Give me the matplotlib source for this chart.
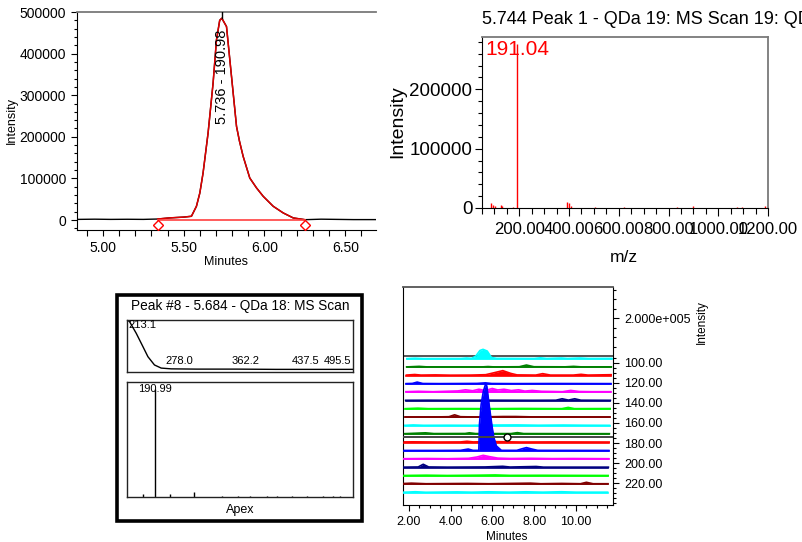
import matplotlib
matplotlib.use("Agg")
import matplotlib.pyplot as plt
from matplotlib.patches import Rectangle
from matplotlib.ticker import MultipleLocator, FixedLocator, FixedFormatter, NullFormatter, FormatStrFormatter

plt.rcParams['font.family'] = ['Liberation Sans', 'DejaVu Sans']

# ---------------- data ----------------
# Extracted-ion chromatogram (m/z 190.98)
xic_time = [4.84, 4.95, 5.05, 5.15, 5.25, 5.34, 5.41, 5.50, 5.548, 5.579, 5.60, 5.62,
            5.651, 5.682, 5.703, 5.723, 5.736, 5.765, 5.796, 5.827, 5.845, 5.868, 5.909,
            5.951, 5.992, 6.054, 6.116, 6.178, 6.25, 6.35, 6.45, 6.55, 6.69]
xic_int = [1500, 2000, 1500, 1800, 1500, 2400, 5000, 7000, 9000, 33000, 65000, 113000,
           209000, 329000, 433000, 480000, 485000, 465000, 345000, 225000, 190000, 153000, 101000,
           77000, 57000, 33000, 17000, 5000, 800, 2000, 1500, 1000, 1000]
peak_start, peak_end = 5.34, 6.25
apex_time, apex_mz = 5.736, 190.98

# Mass spectrum at 5.744 min
ms1_mz = [85, 93, 102, 126.5, 132, 176, 191.04, 391, 399, 408, 505, 619, 834, 898, 1075, 1095, 1189]
ms1_int = [8400, 4500, 3000, 5600, 3500, 2500, 277000, 10000, 8400, 4000, 2000, 2000, 2000, 3000, 2000, 2500, 3000]
base_peak_mz = 191.04

# UV spectrum (peak #8)
uv_nm = [212, 214.9, 223.3, 231.8, 238.1, 246.4, 254.9, 267.5, 300, 350, 400, 450, 498]
uv_abs = [1.0, 0.967, 0.743, 0.484, 0.29, 0.13, 0.07, 0.055, 0.05, 0.05, 0.045, 0.045, 0.045]
uv_labels = [213.1, 278.0, 362.2, 437.5, 495.5]

# Apex mass spectrum (peak #8)
ms2_mz = [131, 190.99, 267, 389, 530, 615, 674, 759, 810, 886, 963, 1047, 1098, 1132]
ms2_rel = [0.035, 1.0, 0.03, 0.045, 0.012, 0.012, 0.015, 0.012, 0.012, 0.012, 0.01, 0.01, 0.01, 0.012]
apex_ms_mz = 190.99

# Stacked extracted-ion chromatograms: m/z window centres and (time, intensity) points
wf_mz = [96.3, 104.6, 112.9, 121.2, 129.6, 137.9, 146.2, 154.5, 162.8,
         171.1, 179.5, 187.8, 196.1, 204.4, 212.7, 221.0, 229.4]
eic_01 = [(1.9, 2000), (2.3, 4000), (2.7, 2000), (4.5, 2500), (4.76, 5000), (5.0, 3000), (5.2, 15000),
          (5.4, 45000), (5.55, 51000), (5.75, 42000), (5.95, 8000), (6.2, 3000), (8.0, 2500),
          (8.3, 6000), (8.6, 2500), (9.3, 5000), (9.6, 2500), (10.2, 5000), (10.6, 2500), (11.71, 3000)]
eic_02 = [(1.9, 2000), (2.5, 5000), (2.9, 2000), (5.5, 2000), (5.8, 4000), (6.1, 2000), (7.3, 3000),
          (7.64, 12000), (8.0, 3000), (9.5, 2500), (9.9, 5000), (10.3, 2000), (11.71, 2500)]
eic_03 = [(1.9, 3000), (2.3, 6000), (2.6, 3000), (3.3, 4000), (4.0, 2500), (5.0, 3000), (5.7, 5000),
          (6.2, 18000), (6.52, 26500), (6.9, 12000), (7.2, 4000), (8.1, 3000), (8.43, 10600),
          (8.8, 3000), (9.9, 3000), (10.27, 7000), (10.6, 3000), (11.71, 5000)]
eic_04 = [(1.9, 2000), (2.2, 3000), (2.43, 10000), (2.7, 2500), (3.5, 2000), (4.5, 2500), (5.3, 3000),
          (5.7, 6000), (6.0, 2500), (7.0, 2000), (9.0, 2500), (11.71, 2000)]
eic_05 = [(1.9, 4000), (2.5, 6000), (3.2, 4000), (3.8, 6000), (4.4, 8000), (4.76, 14000), (5.1, 9000),
          (5.4, 17000), (5.7, 10000), (6.04, 21000), (6.3, 13000), (6.6, 17000), (6.95, 10000),
          (7.3, 14000), (7.6, 7000), (7.95, 10600), (8.4, 6000), (9.0, 5000), (9.4, 4000),
          (9.8, 10600), (10.2, 5000), (10.8, 4000), (11.71, 4000)]
eic_06 = [(1.9, 2500), (3.0, 3000), (4.0, 2500), (6.0, 3000), (8.0, 2500), (9.1, 3000), (9.4, 10600),
          (9.7, 3500), (10.0, 10600), (10.3, 3000), (11.71, 2500)]
eic_07 = [(1.9, 2500), (2.5, 5000), (3.0, 2500), (4.5, 3000), (6.0, 2500), (7.5, 3500), (9.4, 2500),
          (9.7, 9000), (10.0, 2500), (11.71, 3000)]
eic_08 = [(1.9, 2500), (3.5, 3000), (4.0, 4000), (4.27, 14000), (4.55, 4000), (5.3, 2500), (6.6, 5000),
          (7.2, 5000), (8.0, 3000), (9.0, 3000), (11.71, 2500)]
eic_09 = [(1.9, 2500), (2.3, 4500), (2.8, 2500), (4.0, 3000), (5.0, 2500), (6.2, 4000), (7.3, 4500),
          (8.3, 3000), (9.5, 4000), (10.5, 3000), (11.71, 2500)]
eic_10 = [(1.9, 2500), (2.9, 7000), (3.3, 3000), (4.8, 3500), (5.0, 7000), (5.3, 3000), (7.0, 3000),
          (7.3, 8000), (7.6, 3000), (11.71, 2500)]
eic_11 = [(1.9, 3500), (2.3, 4000), (3.5, 3000), (4.6, 3500), (4.9, 7000), (5.2, 3500), (5.8, 5000),
          (6.04, 14000), (6.3, 5000), (7.5, 3000), (9.0, 3500), (11.71, 3000)]
eic_12 = [(1.9, 2500), (3.5, 2500), (4.6, 3000), (4.97, 10000), (5.2, 3000), (5.48, 3000),
          (5.51, 141000), (5.59, 247000), (5.70, 318000), (5.80, 353000), (5.86, 345000),
          (5.99, 230000), (6.12, 124000), (6.20, 71000), (6.32, 26500), (6.56, 3000), (7.3, 3000),
          (7.57, 12000), (7.76, 17700), (8.02, 10000), (8.3, 3000), (11.71, 2500)]
eic_13 = [(1.9, 3000), (3.0, 4000), (4.0, 3000), (5.0, 5000), (5.4, 12000), (5.7, 21000), (6.0, 14000),
          (6.4, 6000), (7.0, 4000), (8.0, 5000), (9.0, 3500), (10.0, 4000), (11.71, 3000)]
eic_14 = [(1.9, 2500), (2.6, 3500), (2.84, 17700), (3.1, 3500), (4.0, 2500), (5.8, 3500), (6.65, 7000),
          (7.0, 3000), (8.25, 6000), (8.6, 2500), (11.71, 2500)]
eic_15 = [(1.9, 2500), (3.0, 4000), (4.0, 2500), (5.5, 4000), (6.3, 5300), (7.0, 3000), (8.5, 3500),
          (10.0, 3000), (11.71, 2500)]
eic_16 = [(1.9, 4000), (2.3, 6000), (3.0, 3000), (5.0, 4500), (6.0, 3000), (8.0, 6000), (8.5, 3000),
          (9.5, 4500), (10.4, 3000), (10.68, 10600), (11.0, 3000), (11.71, 3000)]
eic_17 = [(1.9, 2500), (2.5, 5300), (3.0, 2500), (4.5, 4500), (5.2, 3000), (6.0, 5000), (7.0, 3000),
          (7.8, 5000), (8.6, 3000), (9.5, 5300), (10.2, 3000), (11.71, 3000)]
wf_traces = [eic_01, eic_02, eic_03, eic_04, eic_05, eic_06, eic_07, eic_08, eic_09,
             eic_10, eic_11, eic_12, eic_13, eic_14, eic_15, eic_16, eic_17]
wf_colors = ['#00FFFF', '#008000', '#FF0000', '#0000FF', '#FF00FF', '#000080', '#00FF00', '#800000']
wf_mz_ticks = [100, 120, 140, 160, 180, 200, 220]
wf_int_ticks = [50000, 100000, 150000, 200000, 250000, 300000, 350000]
wf_selected = (6.70, 173.6)

# ---------------- layout helpers ----------------
W, H = 802, 542
fig = plt.figure(figsize=(W / 100, H / 100), dpi=100)


def box(l, t, r, b):
    return [l / W, 1 - b / H, (r - l) / W, (b - t) / H]


def fpos(x, y):
    return x / W, 1 - y / H


GRAY = '#7a7a7a'

# ---------------- chromatogram ----------------
ax1 = fig.add_axes(box(77, 12, 376, 230))
ax1.plot(xic_time, xic_int, color='black', lw=1.0, zorder=2)
in_t = [t for t in xic_time if peak_start <= t <= peak_end]
in_v = [v for t, v in zip(xic_time, xic_int) if peak_start <= t <= peak_end]
ax1.plot(in_t, in_v, color='#e00000', lw=1.1, zorder=3)
ax1.plot([peak_start, peak_end], [0, 0], color='#ff4040', lw=1.2, zorder=3)
ax1.plot([peak_start, peak_end], [-12000, -12000], ls='none', marker='D', ms=5.5,
         mfc='white', mec='red', mew=1.0, zorder=4, clip_on=False)
ax1.plot([apex_time, apex_time], [max(xic_int), 500000], color='black', lw=1.0, zorder=3)
ax1.text(apex_time, 345000, f"{apex_time:.3f} - {apex_mz:.2f}", rotation=90,
         ha='center', va='center', fontsize=10.5, zorder=5)
ax1.set_xlim(4.84, 6.69)
ax1.set_ylim(-24000, 500000)
ax1.xaxis.set_major_locator(MultipleLocator(0.5))
ax1.xaxis.set_minor_locator(MultipleLocator(0.1))
ax1.xaxis.set_major_formatter(FormatStrFormatter('%.2f'))
ax1.yaxis.set_major_locator(MultipleLocator(100000))
ax1.yaxis.set_minor_locator(MultipleLocator(20000))
ax1.yaxis.set_major_formatter(FormatStrFormatter('%d'))
ax1.tick_params(which='both', direction='out', labelsize=10, width=0.8)
ax1.tick_params(which='major', length=4.5)
ax1.tick_params(axis='y', which='minor', length=2.5)
ax1.tick_params(axis='x', which='minor', length=4)
ax1.spines['right'].set_visible(False)
ax1.spines['top'].set_color(GRAY)
ax1.spines['top'].set_linewidth(1.3)
fig.text(*fpos(12, 120), "Intensity", rotation=90, ha='center', va='center', fontsize=9)
fig.text(*fpos(226, 262), "Minutes", ha='center', va='center', fontsize=9)

# ---------------- mass spectrum ----------------
ax2 = fig.add_axes(box(482, 37, 768, 208))
ax2.vlines(ms1_mz, 0, ms1_int, color='red', lw=1.0)
ax2.set_xlim(50, 1200)
ax2.set_ylim(0, 288000)
ax2.xaxis.set_major_locator(MultipleLocator(200))
ax2.xaxis.set_minor_locator(MultipleLocator(50))
ax2.xaxis.set_major_formatter(FormatStrFormatter('%.2f'))
ax2.yaxis.set_major_locator(MultipleLocator(100000))
ax2.yaxis.set_minor_locator(MultipleLocator(20000))
ax2.yaxis.set_major_formatter(FormatStrFormatter('%d'))
ax2.tick_params(which='both', direction='out', width=0.8)
ax2.tick_params(axis='x', which='major', length=6, labelsize=12, pad=4)
ax2.tick_params(axis='x', which='minor', length=4)
ax2.tick_params(axis='y', which='major', length=5, labelsize=13.5, pad=2)
ax2.tick_params(axis='y', which='minor', length=3)
for s in ('top', 'right'):
    ax2.spines[s].set_color(GRAY)
    ax2.spines[s].set_linewidth(1.3)
ax2.text(0.012, 0.985, f"{base_peak_mz:.2f}", transform=ax2.transAxes, color='red',
         fontsize=15, ha='left', va='top')
fig.text(*fpos(482, 20), "5.744 Peak 1 - QDa 19: MS Scan 19: QDa", ha='left', va='center', fontsize=13)
fig.text(*fpos(398, 122), "Intensity", rotation=90, ha='center', va='center', fontsize=14)
fig.text(*fpos(624, 258), "m/z", ha='center', va='center', fontsize=12.5)

# ---------------- peak #8 summary box ----------------
fig.add_artist(Rectangle(fpos(116.5, 520.5), (361.5 - 116.5) / W, (520.5 - 294.5) / H,
                         transform=fig.transFigure, fill=False, ec='black', lw=2.6))
fig.text(*fpos(240, 306), "Peak #8 - 5.684 - QDa 18: MS Scan", ha='center', va='center', fontsize=9.8)

ax3 = fig.add_axes(box(127.3, 320, 353.3, 371.7))
ax3.plot(uv_nm, uv_abs, color='black', lw=1.0)
ax3.set_xlim(212, 498)
ax3.set_ylim(0, 1)
ax3.set_xticks([])
ax3.set_yticks([])
for i, lab in enumerate(uv_labels):
    if i == 0:
        ax3.text(lab, 0.91, f"{lab:.1f}", ha='left', va='center', fontsize=8)
    elif i == len(uv_labels) - 1:
        ax3.text(lab, 0.21, f"{lab:.1f}", ha='right', va='center', fontsize=8)
    else:
        ax3.text(lab, 0.21, f"{lab:.1f}", ha='center', va='center', fontsize=8)

ax4 = fig.add_axes(box(127.3, 382.3, 353.3, 497.3))
ax4.vlines(ms2_mz, 0, ms2_rel, color='black', lw=1.0)
ax4.set_xlim(50, 1200)
ax4.set_ylim(0, 1.065)
ax4.set_xticks([])
ax4.set_yticks([])
ax4.text(apex_ms_mz, 1.0, f"{apex_ms_mz:.2f}", ha='center', va='center', fontsize=8)
for a in (ax3, ax4):
    for s in a.spines.values():
        s.set_color('#222222')
        s.set_linewidth(1.0)
fig.text(*fpos(240, 510), "Apex", ha='center', va='center', fontsize=9)

# ---------------- stacked chromatograms ----------------
ax5 = fig.add_axes(box(402.7, 287, 613.3, 505))
k = 1.875e-4            # m/z units of vertical offset per intensity count
back_base = 93.3        # intensity zero on the back plane
depth_shift = 0.012     # left shift per trace (oblique projection)
ax5.axhline(back_base, color='#555555', lw=1.4, zorder=1)
for i, (mz, trace) in enumerate(zip(wf_mz, wf_traces)):
    c = wf_colors[i % len(wf_colors)]
    t = [p[0] - depth_shift * i for p in trace]
    y = [mz - p[1] * k for p in trace]
    z = 2 + i
    ax5.fill_between(t, mz, y, color=c, lw=0, zorder=z)
    ax5.plot(t, y, color=c, lw=1.2, zorder=z)
    ax5.plot([t[0], t[-1]], [mz, mz], color=c, lw=1.2, zorder=z)
ax5.axhline(wf_selected[1], color='#444444', lw=1.4, zorder=40)
ax5.plot(*wf_selected, marker='o', ms=5, mfc='white', mec='black', mew=1.0, zorder=41)
ax5.set_xlim(1.70, 11.79)
ax5.set_ylim(241.6, 24.7)
ax5.xaxis.set_major_locator(MultipleLocator(2))
ax5.xaxis.set_minor_locator(MultipleLocator(0.5))
ax5.xaxis.set_major_formatter(FormatStrFormatter('%.2f'))
ax5.yaxis.tick_right()
major_pos = wf_mz_ticks + [back_base - 200000 * k]
major_lab = [f"{v:.2f}" for v in wf_mz_ticks] + ["2.000e+005"]
ax5.yaxis.set_major_locator(FixedLocator(major_pos))
ax5.yaxis.set_major_formatter(FixedFormatter(major_lab))
minor_pos = [m for m in range(95, 241, 5) if m not in wf_mz_ticks]
minor_pos += [back_base - v * k for v in wf_int_ticks if v != 200000]
ax5.yaxis.set_minor_locator(FixedLocator(minor_pos))
ax5.yaxis.set_minor_formatter(NullFormatter())
ax5.tick_params(which='both', direction='out', width=0.8, labelsize=9)
ax5.tick_params(which='major', length=4.5)
ax5.tick_params(which='minor', length=2.5)
ax5.spines['top'].set_color('#555555')
ax5.spines['top'].set_linewidth(1.3)
fig.text(*fpos(701.7, 322), "Intensity", rotation=90, ha='center', va='center', fontsize=8.5)
fig.text(*fpos(506.7, 536.5), "Minutes", ha='center', va='center', fontsize=8.5)

fig.savefig("out.png", dpi=100)
